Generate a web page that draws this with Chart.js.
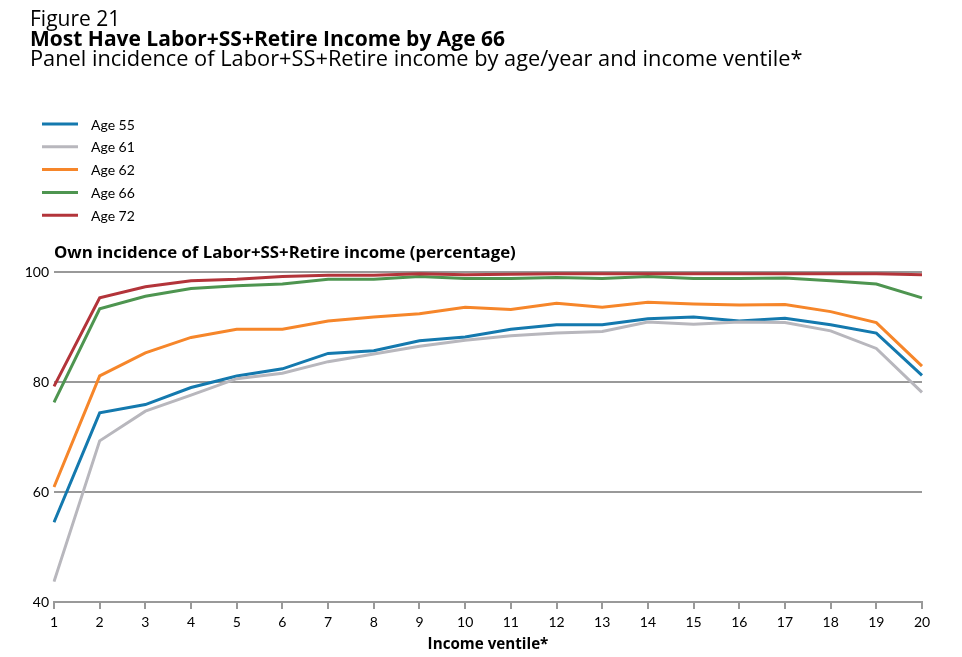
<!DOCTYPE html>
<html>
<head>
<meta charset="utf-8">
<script src="https://cdn.jsdelivr.net/npm/chart.js@4.4.1/dist/chart.umd.min.js"></script>
<style>
  html, body { margin: 0; padding: 0; background: #fff; }
  #wrap { position: relative; width: 962px; height: 657px; overflow: hidden; }
  canvas { position: absolute; left: 0; top: 0; }
  .t { position: absolute; left: 30px; white-space: nowrap; font-family: "Open Sans", Lato, sans-serif; color: #000; }
  #fig { top: 8px; font-size: 21px; line-height: 20px; }
  #ttl { top: 28px; font-size: 21px; line-height: 20px; font-weight: bold; }
  #sub { top: 47.5px; font-size: 21.8px; line-height: 20px; }
  #ycap { left: 54px; top: 244px; font-size: 16.8px; line-height: 15px; font-weight: bold; }
</style>
</head>
<body>
<div id="wrap">
  <canvas id="c" width="962" height="657"></canvas>
  <div class="t" id="fig">Figure 21</div>
  <div class="t" id="ttl">Most Have Labor+SS+Retire Income by Age 66</div>
  <div class="t" id="sub">Panel incidence of Labor+SS+Retire income by age/year and income ventile*</div>
  <div class="t" id="ycap">Own incidence of Labor+SS+Retire income (percentage)</div>
</div>
<script>
const categories = ['1','2','3','4','5','6','7','8','9','10','11','12','13','14','15','16','17','18','19','20'];
const seriesLabels = ['Age 55', 'Age 61', 'Age 62', 'Age 66', 'Age 72'];
const age55 = [54.5, 74.4, 75.9, 79.0, 81.1, 82.4, 85.2, 85.7, 87.5, 88.2, 89.6, 90.4, 90.4, 91.5, 91.8, 91.1, 91.6, 90.4, 88.9, 81.2];
const age61 = [43.7, 69.3, 74.7, 77.6, 80.6, 81.6, 83.7, 85.1, 86.5, 87.6, 88.4, 88.9, 89.2, 90.9, 90.5, 90.9, 90.8, 89.3, 86.1, 78.1];
const age62 = [60.9, 81.1, 85.3, 88.1, 89.6, 89.6, 91.1, 91.8, 92.4, 93.6, 93.2, 94.3, 93.6, 94.5, 94.2, 94.0, 94.1, 92.8, 90.8, 82.9];
const age66 = [76.3, 93.3, 95.6, 97.0, 97.5, 97.8, 98.7, 98.7, 99.2, 98.8, 98.8, 99.0, 98.8, 99.2, 98.8, 98.8, 98.9, 98.4, 97.8, 95.3];
const age72 = [79.2, 95.3, 97.3, 98.4, 98.7, 99.2, 99.4, 99.4, 99.7, 99.5, 99.6, 99.7, 99.7, 99.7, 99.7, 99.7, 99.7, 99.7, 99.7, 99.5];
const yTicks = [40, 60, 80, 100];

const colors = ['#1479ae', '#b8b7bd', '#f6862a', '#4e9550', '#b3343a'];
const seriesData = [age55, age61, age62, age66, age72];
const FONT = 'Lato, "Open Sans", sans-serif';
const FONT_B = '"Open Sans", Lato, sans-serif';

const datasets = seriesData.map((d, i) => ({
  label: seriesLabels[i],
  data: d,
  borderColor: colors[i],
  backgroundColor: colors[i],
  borderWidth: 3,
  pointRadius: 0,
  tension: 0,
  fill: false,
  order: seriesData.length - 1 - i
}));

const legendPlugin = {
  id: 'customLegend',
  afterDraw(chart) {
    const ctx = chart.ctx;
    ctx.save();
    const x0 = 42, x1 = 78, tx = 91, y0 = 124, dy = 22.8;
    chart.data.datasets.forEach((ds, i) => {
      const y = y0 + i * dy;
      ctx.strokeStyle = ds.borderColor;
      ctx.lineWidth = 3;
      ctx.beginPath();
      ctx.moveTo(x0, y);
      ctx.lineTo(x1, y);
      ctx.stroke();
      ctx.fillStyle = '#000';
      ctx.font = '14px ' + FONT;
      ctx.textBaseline = 'middle';
      ctx.textAlign = 'left';
      ctx.fillText(ds.label, tx, y + 1);
    });
    ctx.restore();
  }
};

new Chart(document.getElementById('c'), {
  type: 'line',
  data: { labels: categories, datasets },
  plugins: [legendPlugin],
  options: {
    responsive: false,
    animation: false,
    events: [],
    layout: { padding: { top: 272, right: 40, bottom: 0, left: 0 } },
    plugins: { legend: { display: false }, tooltip: { enabled: false }, title: { display: false } },
    scales: {
      x: {
        type: 'category',
        offset: false,
        grid: { drawOnChartArea: false, drawTicks: true, tickLength: 7, color: '#999999', lineWidth: 2, offset: false },
        border: { display: true, color: '#999999', width: 2 },
        ticks: { color: '#000', font: { family: FONT, size: 14 }, padding: 5, maxRotation: 0, autoSkip: false },
        title: { display: true, text: 'Income ventile*', color: '#000', font: { family: FONT_B, size: 15.2, weight: 'bold' }, padding: { top: 0, bottom: 3 } },
        afterFit(s) { s.height = 55; }
      },
      y: {
        min: 40, max: 100,
        afterBuildTicks(s) { s.ticks = yTicks.map(v => ({ value: v })); },
        grid: { drawTicks: false, color: '#999999', lineWidth: 2 },
        border: { display: false },
        ticks: { color: '#000', font: { family: FONT, size: 14 }, padding: 5 },
        afterFit(s) { s.width = 54; }
      }
    }
  }
});
</script>
</body>
</html>
